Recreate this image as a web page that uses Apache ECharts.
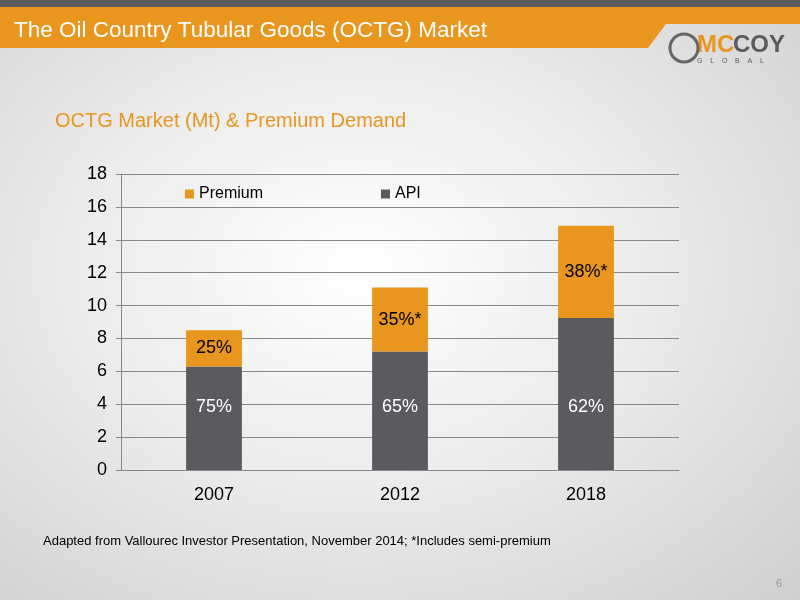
<!DOCTYPE html>
<html>
<head>
<meta charset="utf-8">
<script src="https://cdn.jsdelivr.net/npm/echarts@6/dist/echarts.min.js"></script>
<style>
html,body{margin:0;padding:0;}
#main{width:800px;height:600px;background:radial-gradient(ellipse at 45% 45%,#ffffff 0%,#ececec 45%,#cfcfcf 100%);}
</style>
</head>
<body>
<div id="main"></div>
<script>
var years = ['2007', '2012', '2018'];
var api = [6.3, 7.2, 9.25];
var premium = [2.2, 3.9, 5.6];
var apiLabels = ['75%', '65%', '62%'];
var premiumLabels = ['25%', '35%*', '38%*'];

var chart = echarts.init(document.getElementById('main'));

var option = {
    animation: false,
    textStyle: { fontFamily: 'Liberation Sans, Arial' },
    graphic: [
        { type: 'rect', shape: { x: 0, y: 0, width: 800, height: 7 }, style: { fill: '#5b5b5f' } },
        { type: 'polygon', shape: { points: [[0, 7], [800, 7], [800, 24], [666, 24], [648, 48], [0, 48]] }, style: { fill: '#e8961e' } },
        { type: 'text', left: 14, top: 19, style: { text: 'The Oil Country Tubular Goods (OCTG) Market', fill: '#ffffff', fontSize: 22.5, fontFamily: 'Liberation Sans' } },
        { type: 'text', left: 697, top: 33, style: { text: 'MC', fill: '#e8961e', fontSize: 24, fontWeight: 'bold', fontFamily: 'Liberation Sans' } },
        { type: 'text', left: 733, top: 33, style: { text: 'COY', fill: '#5b5b5f', fontSize: 24, fontWeight: 'bold', fontFamily: 'Liberation Sans' } },
        { type: 'text', left: 697, top: 58, style: { text: 'G    L    O    B    A    L', fill: '#5b5b5f', fontSize: 7, fontFamily: 'Liberation Sans' } },
        { type: 'circle', shape: { cx: 684, cy: 48, r: 14 }, style: { fill: 'none', stroke: '#666', lineWidth: 3 } },
        { type: 'text', left: 55, top: 111, style: { text: 'OCTG Market (Mt) & Premium Demand', fill: '#e8961e', fontSize: 20, fontFamily: 'Liberation Sans' } },
        { type: 'text', left: 43, top: 535, style: { text: 'Adapted from Vallourec Investor Presentation, November 2014; *Includes semi-premium', fill: '#000', fontSize: 13, fontFamily: 'Liberation Sans' } },
        { type: 'text', left: 776, top: 578, style: { text: '6', fill: '#999', fontSize: 11, fontFamily: 'Liberation Sans' } }
    ],
    legend: {
        left: 180, top: 181, itemGap: 118, itemWidth: 9, itemHeight: 9,
        icon: 'rect',
        textStyle: { fontSize: 16, color: '#000' },
        data: ['Premium', 'API']
    },
    grid: { left: 121, right: 121, top: 174, bottom: 130 },
    xAxis: {
        type: 'category', data: years,
        axisTick: { show: false },
        axisLine: { lineStyle: { color: '#888' } },
        axisLabel: { fontSize: 18, color: '#000', margin: 16 }
    },
    yAxis: {
        type: 'value', min: 0, max: 18, interval: 2,
        axisLine: { show: true, lineStyle: { color: '#888' } },
        axisTick: { show: true, length: 5, lineStyle: { color: '#888' } },
        axisLabel: { fontSize: 18, color: '#000', margin: 14 },
        splitLine: { lineStyle: { color: '#888' } }
    },
    series: [
        {
            name: 'API', type: 'bar', stack: 'total', barWidth: '30%',
            itemStyle: { color: '#5b5b5f' },
            data: api,
            label: { show: true, position: 'insideBottom', distance: 54, color: '#ffffff', fontSize: 18,
                formatter: function (p) { return apiLabels[p.dataIndex]; } }
        },
        {
            name: 'Premium', type: 'bar', stack: 'total',
            itemStyle: { color: '#e8961e' },
            data: premium,
            label: { show: true, position: 'inside', color: '#000', fontSize: 18,
                formatter: function (p) { return premiumLabels[p.dataIndex]; } }
        }
    ]
};

chart.setOption(option);
</script>
</body>
</html>
